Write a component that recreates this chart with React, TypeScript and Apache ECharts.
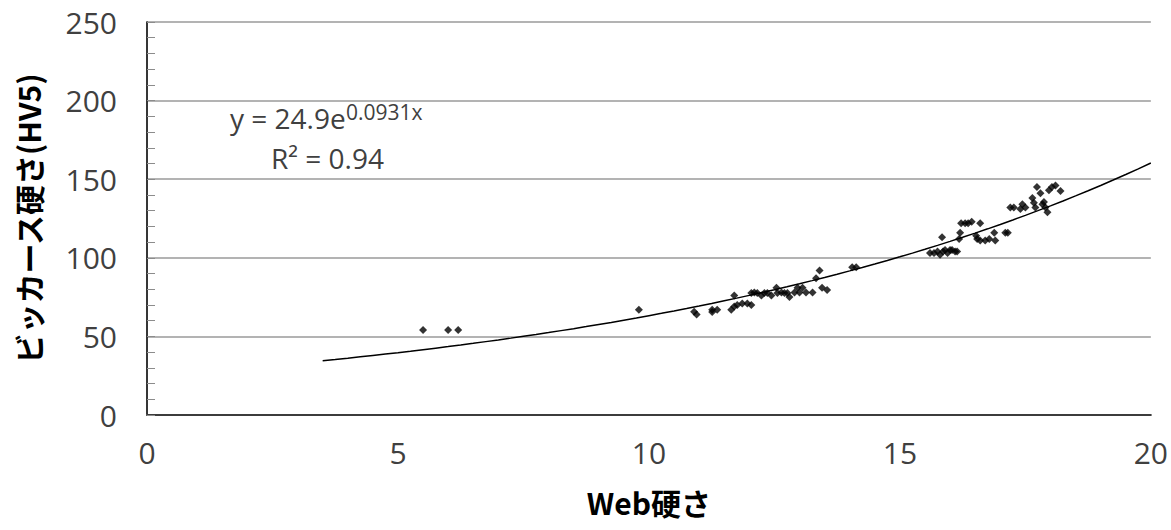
import React, { useEffect, useRef } from "react";
import * as echarts from "echarts";

const webHardness = [
  5.5, 6.0, 6.2, 9.8,
  10.9, 10.95, 11.26, 11.26, 11.36, 11.64, 11.7, 11.7, 11.76, 11.86, 11.96, 12.04, 12.04, 12.1, 12.16, 12.24,
  12.3, 12.36, 12.44, 12.54, 12.56, 12.64, 12.7, 12.76, 12.8, 12.9, 12.96, 13.0, 13.06, 13.13, 13.26, 13.33,
  13.4, 13.45, 13.55, 14.05, 14.13,
  15.6, 15.68, 15.75, 15.8, 15.84, 15.86, 15.9, 15.95, 16.0, 16.04, 16.1, 16.14, 16.18, 16.2, 16.22, 16.3,
  16.36, 16.43, 16.52, 16.54, 16.6, 16.6, 16.7, 16.78, 16.88, 16.9, 17.1, 17.15, 17.2, 17.27, 17.4,
  17.44, 17.5, 17.64, 17.67, 17.7, 17.73, 17.8, 17.84, 17.87, 17.9, 17.94, 17.97, 18.03, 18.1, 18.2,
];
const vickersHardness = [
  54, 54, 54, 67,
  65.7, 64, 65.5, 67, 67, 67, 69, 76, 70, 71, 71, 70, 77.6, 78, 77.6, 76,
  77.6, 77.6, 76, 81, 77.6, 78, 77.6, 77.6, 75, 78, 81, 78, 81, 78, 78, 87,
  92, 81, 79.5, 94, 94,
  103, 103, 104, 102, 113, 104, 105, 103, 105, 105, 104, 104, 112, 116, 122, 122,
  122, 123, 114, 112, 122, 111, 111, 112, 116, 111, 116, 116, 132, 132, 131,
  134, 132, 138, 135, 132, 145, 141, 134, 135.5, 132, 129, 143, 145, 146, 142.5,
];

// Fitted trendline from the chart's own equation: y = 24.9 e^(0.0931 x)
const trendA = 24.9;
const trendB = 0.0931;
const trendStart = 3.5;
const trendEnd = 20;

const xTicks = { min: 0, max: 20, interval: 5 };
const yTicks = { min: 0, max: 250, interval: 50 };

const equationText = "y = 24.9e";
const equationExp = "0.0931x";
const r2Text = "R² = 0.94";
const xTitle = "Web硬さ";
const yTitle = "ビッカース硬さ(HV5)";

export default function App() {
  const ref = useRef<HTMLDivElement>(null);
  useEffect(() => {
    if (!ref.current) return;
    const chart = echarts.init(ref.current, null, { renderer: "svg" });
    const points = webHardness.map((x, i) => [x, vickersHardness[i]]);
    const trend: number[][] = [];
    const steps = 66;
    for (let i = 0; i <= steps; i++) {
      const x = trendStart + ((trendEnd - trendStart) * i) / steps;
      trend.push([x, trendA * Math.exp(trendB * x)]);
    }
    const tickFont = { fontFamily: "Open Sans", fontSize: 30, color: "#404040" };
    const titleFont = { fontFamily: "Noto Sans CJK JP", fontWeight: "bold", fontSize: 30, color: "#000" };
    chart.setOption({
      animation: false,
      backgroundColor: "#ffffff",
      grid: { left: 147, top: 22, right: 19, bottom: 115 },
      xAxis: [
        {
          type: "value",
          min: xTicks.min,
          max: xTicks.max,
          interval: xTicks.interval,
          axisLine: { show: true, lineStyle: { color: "#8c8c8c", width: 2 } },
          axisTick: { show: false },
          splitLine: { show: false },
          axisLabel: { ...tickFont, margin: 22 },
          name: xTitle,
          nameLocation: "middle",
          nameGap: 72,
          nameTextStyle: titleFont,
        },
        {
          type: "value",
          position: "top",
          min: xTicks.min,
          max: xTicks.max,
          interval: xTicks.interval,
          axisLine: { show: true, lineStyle: { color: "#222", width: 1.5 } },
          axisTick: { show: false },
          axisLabel: { show: false },
          splitLine: { show: false },
        },
      ],
      yAxis: [
        {
          type: "value",
          min: yTicks.min,
          max: yTicks.max,
          interval: yTicks.interval,
          axisLine: { show: true, lineStyle: { color: "#8c8c8c", width: 1.5 } },
          axisTick: { show: true, inside: true, length: 8, lineStyle: { color: "#8c8c8c" } },
          minorTick: { show: true, splitNumber: 5, length: 8, lineStyle: { color: "#8c8c8c" } },
          splitLine: { show: true, lineStyle: { color: "#9a9a9a", width: 1.5 } },
          axisLabel: { ...tickFont, margin: 30 },
          name: yTitle,
          nameLocation: "middle",
          nameGap: 104,
          nameTextStyle: titleFont,
        },
        {
          type: "value",
          position: "right",
          min: yTicks.min,
          max: yTicks.max,
          interval: yTicks.interval,
          axisLine: { show: true, lineStyle: { color: "#111", width: 1.5 } },
          axisTick: { show: false },
          axisLabel: { show: false },
          splitLine: { show: false },
        },
      ],
      series: [
        {
          type: "line",
          data: trend,
          showSymbol: false,
          smooth: false,
          lineStyle: { color: "#000", width: 1.5 },
          silent: true,
          z: 2,
        },
        {
          type: "scatter",
          data: points,
          symbol: "diamond",
          symbolSize: 8,
          itemStyle: { color: "#000" },
          z: 3,
        },
      ],
      graphic: [
        {
          type: "text",
          left: 230,
          top: 104,
          style: { text: equationText, fontFamily: "Open Sans", fontSize: 28, fill: "#404040" },
        },
        {
          type: "text",
          left: 346,
          top: 101,
          style: { text: equationExp, fontFamily: "Open Sans", fontSize: 21, fill: "#404040" },
        },
        {
          type: "text",
          left: 271,
          top: 144,
          style: { text: r2Text, fontFamily: "Open Sans", fontSize: 28, fill: "#404040" },
        },
      ],
    });
    return () => chart.dispose();
  }, []);
  return (
    <div
      ref={ref}
      style={{ position: "fixed", left: 0, top: 0, width: 1171, height: 530, background: "#fff" }}
    />
  );
}
